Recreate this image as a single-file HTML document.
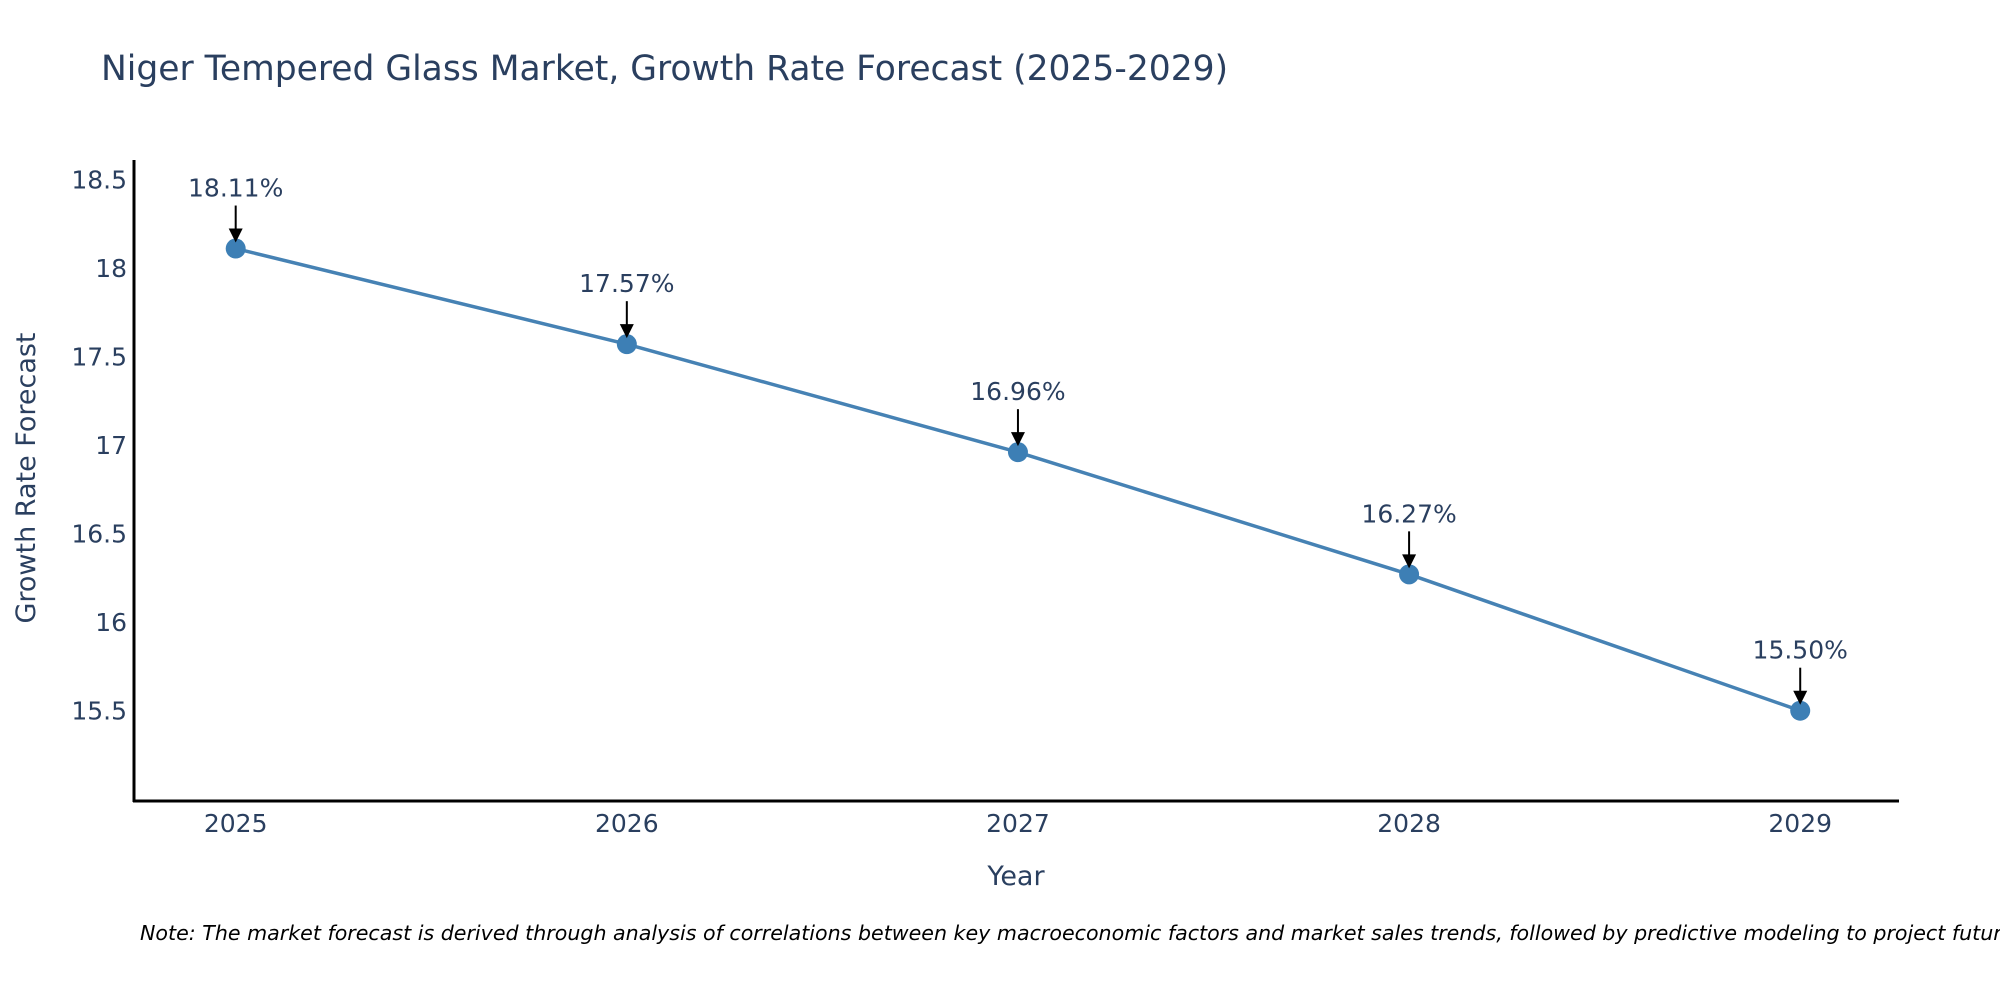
<!DOCTYPE html>
<html><head><meta charset="utf-8"><style>
html,body{margin:0;padding:0;background:#fff;}
svg{display:block;font-family:"DejaVu Sans","Liberation Sans",sans-serif;}
</style></head><body>
<svg id="chart" width="2000" height="1000" xmlns="http://www.w3.org/2000/svg">
<text x="101" y="80" font-size="34.5" fill="#2a3f5f">Niger Tempered Glass Market, Growth Rate Forecast (2025-2029)</text>
<g id="yticks"></g>
<g id="xticks"></g>
<line x1="134" y1="160" x2="134" y2="802" stroke="#000" stroke-width="3"/>
<line x1="133" y1="801" x2="1899" y2="801" stroke="#000" stroke-width="3"/>
<g id="series"></g>
<g id="annots"></g>
<text x="1016" y="885" font-size="27" fill="#2a3f5f" text-anchor="middle">Year</text>
<text x="0" y="0" font-size="27" fill="#2a3f5f" text-anchor="middle" transform="translate(35,478) rotate(-90)">Growth Rate Forecast</text>
<text x="140" y="940" font-size="20.6" font-style="italic" fill="#000">Note: The market forecast is derived through analysis of correlations between key macroeconomic factors and market sales trends, followed by predictive modeling to project future sales.</text>
</svg>
<script>
const years = [2025, 2026, 2027, 2028, 2029];
const values = [18.11, 17.57, 16.96, 16.27, 15.50];
const labels = ["18.11%", "17.57%", "16.96%", "16.27%", "15.50%"];
const yTickValues = [15.5, 16, 16.5, 17, 17.5, 18, 18.5];
const yTickLabels = ["15.5", "16", "16.5", "17", "17.5", "18", "18.5"];

const NS = "http://www.w3.org/2000/svg";
const xMin = 2024.74, xMax = 2029.25, px0 = 134, px1 = 1898;
const yMin = 14.99, yMax = 18.61, py0 = 801, py1 = 160;
function xs(v){ return px0 + (v - xMin) / (xMax - xMin) * (px1 - px0); }
function ys(v){ return py0 - (v - yMin) / (yMax - yMin) * (py0 - py1); }
function mk(tag, attrs, parent){ const e = document.createElementNS(NS, tag); for (const k in attrs) e.setAttribute(k, attrs[k]); parent.appendChild(e); return e; }

const yt = document.getElementById('yticks');
yTickValues.forEach((v, i) => {
  const t = mk('text', {x: 127, y: ys(v) + 9, 'font-size': 25, fill: '#2a3f5f', 'text-anchor': 'end'}, yt);
  
  
  t.textContent = yTickLabels[i];
});
const xt = document.getElementById('xticks');
years.forEach(y => {
  const t = mk('text', {x: xs(y), y: 832, 'font-size': 25, fill: '#2a3f5f', 'text-anchor': 'middle'}, xt);
  
  
  t.textContent = String(y);
});
const s = document.getElementById('series');
const pts = years.map((y, i) => xs(y) + ',' + ys(values[i])).join(' ');
const pl = mk('polyline', {points: pts, fill: 'none', stroke: '#4682b4', 'stroke-width': 3.5}, s);


years.forEach((y, i) => {
  const c = mk('circle', {cx: xs(y), cy: ys(values[i]), r: 10, fill: '#3d7fb5'}, s);
  
  
});
const a = document.getElementById('annots');
years.forEach((y, i) => {
  const x = xs(y), py = ys(values[i]);
  const t = mk('text', {x: x, y: py - 52, 'font-size': 25, fill: '#2a3f5f', 'text-anchor': 'middle'}, a);
  
  
  t.textContent = labels[i];
  const l = mk('line', {x1: x, y1: py - 43, x2: x, y2: py - 18, stroke: '#000', 'stroke-width': 2}, a);
  
  
  const h = mk('polygon', {points: (x-7)+','+(py-20)+' '+(x+7)+','+(py-20)+' '+x+','+(py-6), fill: '#000'}, a);
  
  
});
</script>
</body></html>
